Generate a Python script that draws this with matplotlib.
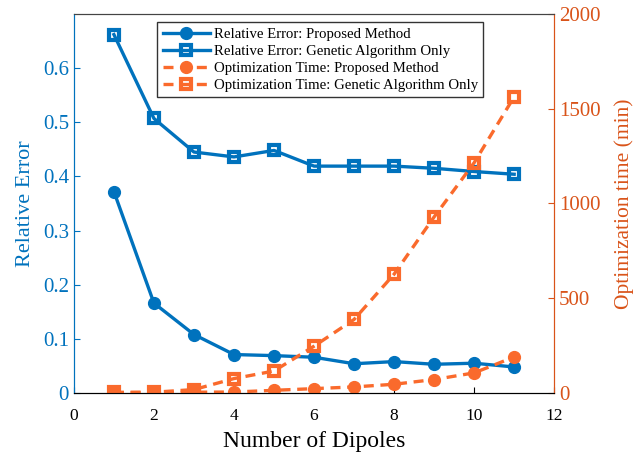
import matplotlib
matplotlib.use("Agg")
import matplotlib.pyplot as plt

dipoles = [1, 2, 3, 4, 5, 6, 7, 8, 9, 10, 11]
err_proposed = [0.372, 0.166, 0.108, 0.071, 0.069, 0.066, 0.054, 0.058, 0.053, 0.055, 0.048]
err_ga = [0.662, 0.507, 0.445, 0.436, 0.448, 0.419, 0.419, 0.419, 0.415, 0.409, 0.404]
time_proposed = [2, 3, 4, 5, 14, 23, 32, 46, 71, 106, 190]
time_ga = [3, 4, 18, 76, 116, 247, 388, 627, 929, 1215, 1563]

blue = "#0072BD"
orange = "#FA6A2C"
orange_axis = "#D95319"

plt.rcParams["font.family"] = ["Liberation Serif", "DejaVu Serif"]

fig = plt.figure(figsize=(6.37, 4.54), dpi=100)
ax = fig.add_axes([0.116, 0.1344, 0.754, 0.8348])
ax2 = ax.twinx()

l1, = ax.plot(dipoles, err_proposed, color=blue, lw=2.4, marker="o", ms=8.5,
              label="Relative Error: Proposed Method")
l2, = ax.plot(dipoles, err_ga, color=blue, lw=2.4, marker="s", ms=6.8, mfc="none", mew=3,
              label="Relative Error: Genetic Algorithm Only")
l3, = ax2.plot(dipoles, time_proposed, color=orange, lw=2.4, ls=(0, (3, 2)), marker="o", ms=8.5,
               label="Optimization Time: Proposed Method")
l4, = ax2.plot(dipoles, time_ga, color=orange, lw=2.4, ls=(0, (3, 2)), marker="s", ms=6.8,
               mfc="none", mew=3, label="Optimization Time: Genetic Algorithm Only")

ax.set_xlim(0, 12)
ax.set_ylim(0, 0.7)
ax.set_xticks([0, 2, 4, 6, 8, 10, 12])
ax.set_yticks([0, 0.1, 0.2, 0.3, 0.4, 0.5, 0.6])
ax.set_yticklabels(["0", "0.1", "0.2", "0.3", "0.4", "0.5", "0.6"])
ax2.set_ylim(0, 2000)
ax2.set_yticks([0, 500, 1000, 1500, 2000])

ax.tick_params(axis="x", labelsize=12.5, direction="in", length=4, pad=11)
ax.tick_params(axis="y", labelsize=15, colors=blue, direction="in", length=4)
ax2.tick_params(axis="y", labelsize=15, colors=orange_axis, direction="in", length=4)

for a in (ax, ax2):
    a.spines["left"].set_color(blue)
    a.spines["right"].set_color(orange_axis)
    a.spines["top"].set_color("#444444")
    a.spines["bottom"].set_color("black")

ax.set_xlabel("Number of Dipoles", fontsize=17, labelpad=5)
ax.set_ylabel("Relative Error", fontsize=16, color=blue, labelpad=6)
ax2.set_ylabel("Optimization time (min)", fontsize=15.5, color=orange_axis, labelpad=10)

leg = ax2.legend(handles=[l1, l2, l3, l4], loc="upper left", bbox_to_anchor=(0.174, 0.978),
                 fontsize=10.6, frameon=True, fancybox=False, edgecolor="black",
                 handlelength=3.2, handletextpad=0.3, borderpad=0.35, labelspacing=0.25,
                 borderaxespad=0)
leg.get_frame().set_linewidth(1.0)

fig.savefig("out.png", dpi=100)
